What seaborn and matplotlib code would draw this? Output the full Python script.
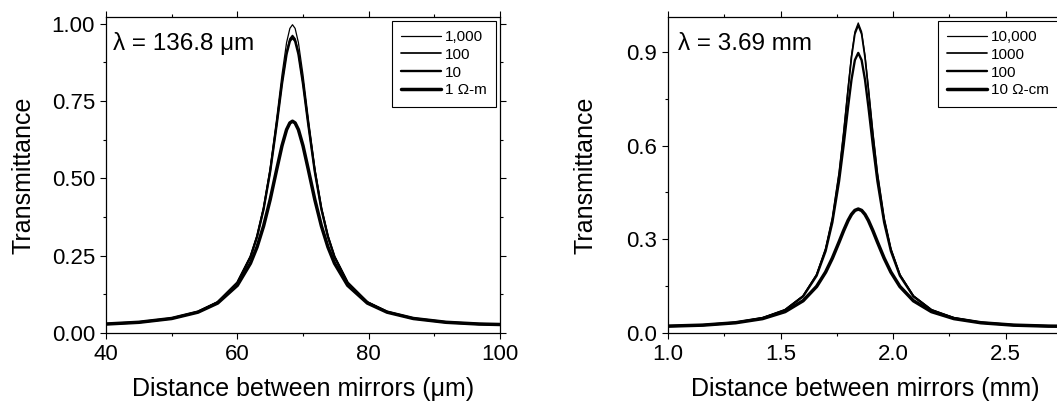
import matplotlib
matplotlib.use("Agg")
import matplotlib.pyplot as plt
import seaborn as sns
from matplotlib.ticker import MultipleLocator

# left panel: lambda = 136.8 um, resistivity in ohm-m
x_um = [40, 45, 50, 54, 57, 60, 62, 63, 64, 65, 66, 66.8, 67.5, 68, 68.4,
        68.8, 69.3, 70.0, 70.8, 71.8, 72.8, 73.8, 74.8, 76.8, 79.8, 82.8,
        86.8, 91.8, 96.8, 100]
t_1000 = [0.029, 0.0347, 0.0473, 0.0685, 0.0999, 0.1639, 0.2485, 0.315, 0.4074,
          0.5336, 0.6951, 0.8353, 0.9394, 0.9851, 0.997, 0.9851, 0.9394, 0.8353,
          0.6951, 0.5336, 0.4074, 0.315, 0.2485, 0.1639, 0.0999, 0.0685, 0.0473,
          0.0347, 0.029, 0.0274]
t_100 = [0.029, 0.0347, 0.0473, 0.0685, 0.0997, 0.1631, 0.2465, 0.3117, 0.4018,
         0.5237, 0.6781, 0.8107, 0.9084, 0.9509, 0.962, 0.9509, 0.9084, 0.8107,
         0.6781, 0.5237, 0.4018, 0.3117, 0.2465, 0.1631, 0.0997, 0.0685, 0.0473,
         0.0347, 0.029, 0.0274]
t_10 = [0.029, 0.0347, 0.0473, 0.0685, 0.0997, 0.163, 0.2463, 0.3113, 0.4009,
        0.5219, 0.6749, 0.8059, 0.9022, 0.9441, 0.955, 0.9441, 0.9022, 0.8059,
        0.6749, 0.5219, 0.4009, 0.3113, 0.2463, 0.163, 0.0997, 0.0685, 0.0473,
        0.0347, 0.029, 0.0274]
t_1 = [0.029, 0.0346, 0.0469, 0.0674, 0.0968, 0.1542, 0.2254, 0.2779, 0.3461,
       0.4314, 0.5294, 0.6056, 0.6577, 0.6794, 0.685, 0.6794, 0.6577, 0.6056,
       0.5294, 0.4314, 0.3461, 0.2779, 0.2254, 0.1542, 0.0968, 0.0674, 0.0469,
       0.0346, 0.029, 0.0275]
left_labels = ["1,000", "100", "10", "1 Ω-m"]

# right panel: lambda = 3.69 mm, resistivity in ohm-cm
x_mm = [1.0, 1.155, 1.3, 1.42, 1.52, 1.6, 1.66, 1.70, 1.73, 1.76, 1.78, 1.80,
        1.815, 1.83, 1.845, 1.86, 1.875, 1.89, 1.91, 1.93, 1.96, 1.99, 2.03,
        2.09, 2.17, 2.27, 2.39, 2.535, 2.69, 2.75]
r_10000 = [0.022, 0.0253, 0.0334, 0.048, 0.0741, 0.1186, 0.187, 0.2696, 0.3678,
           0.5134, 0.6416, 0.7862, 0.889, 0.9648, 0.993, 0.9648, 0.889, 0.7862,
           0.6416, 0.5134, 0.3678, 0.2696, 0.187, 0.1186, 0.0741, 0.048, 0.0334,
           0.0253, 0.022, 0.0217]
r_1000 = [0.022, 0.0253, 0.0334, 0.048, 0.0741, 0.1186, 0.1868, 0.2692, 0.3669,
          0.5115, 0.6385, 0.7813, 0.8826, 0.9572, 0.985, 0.9572, 0.8826, 0.7813,
          0.6385, 0.5115, 0.3669, 0.2692, 0.1868, 0.1186, 0.0741, 0.048, 0.0334,
          0.0253, 0.022, 0.0217]
r_100 = [0.022, 0.0253, 0.0333, 0.0478, 0.0736, 0.1173, 0.1835, 0.2623, 0.3541,
         0.4868, 0.6004, 0.7249, 0.8113, 0.8739, 0.897, 0.8739, 0.8113, 0.7249,
         0.6004, 0.4868, 0.3541, 0.2623, 0.1835, 0.1173, 0.0736, 0.0478, 0.0333,
         0.0253, 0.022, 0.0216]
r_10 = [0.022, 0.0252, 0.0328, 0.0461, 0.0685, 0.1032, 0.1489, 0.1949, 0.2396,
        0.2917, 0.3277, 0.3604, 0.3798, 0.3926, 0.397, 0.3926, 0.3798, 0.3604,
        0.3277, 0.2917, 0.2396, 0.1949, 0.1489, 0.1032, 0.0685, 0.0461, 0.0328,
        0.0252, 0.022, 0.0217]
right_labels = ["10,000", "1000", "100", "10 Ω-cm"]

line_widths = [0.9, 1.25, 1.7, 2.5]

sns.set_style("ticks")
plt.rcParams['font.family'] = ['Liberation Sans', 'DejaVu Sans']
for key in ["text.color", "axes.labelcolor", "xtick.color", "ytick.color",
            "axes.edgecolor"]:
    plt.rcParams[key] = "black"

W, H = 1057, 408
fig = plt.figure(figsize=(W / 100, H / 100), dpi=100)
ax1 = fig.add_axes([106 / W, (H - 333) / H, 394 / W, 316 / H])
ax2 = fig.add_axes([668 / W, (H - 333) / H, 394 / W, 316 / H])


def style_axis(ax, xlabel):
    for sp in ax.spines.values():
        sp.set_visible(True)
        sp.set_linewidth(0.9)
        sp.set_color("black")
    ax.tick_params(which="both", direction="out", top=True, right=True,
                   labeltop=False, labelright=False, width=0.8, color="black",
                   labelcolor="black", labelsize=16)
    ax.tick_params(which="major", length=4.5)
    ax.tick_params(which="minor", length=2.5)
    ax.set_ylabel("Transmittance", fontsize=18, color="black")
    ax.yaxis.set_label_coords(-0.18, 0.5)
    ax.set_xlabel(xlabel, fontsize=18, color="black")
    ax.xaxis.set_label_coords(0.5, -0.14)


# left
for ys, lab, lw in zip([t_1000, t_100, t_10, t_1], left_labels, line_widths):
    sns.lineplot(x=x_um, y=ys, ax=ax1, color="black", linewidth=lw, label=lab)
ax1.set_xlim(40, 100)
ax1.set_ylim(0, 1.022)
ax1.xaxis.set_major_locator(MultipleLocator(20))
ax1.xaxis.set_minor_locator(MultipleLocator(10))
ax1.yaxis.set_major_locator(MultipleLocator(0.25))
ax1.yaxis.set_minor_locator(MultipleLocator(0.125))
style_axis(ax1, "Distance between mirrors (μm)")
ax1.text(0.018, 0.915, "λ = 136.8 μm", transform=ax1.transAxes, fontsize=17.5,
         va="center", ha="left", color="black")

# right
for ys, lab, lw in zip([r_10000, r_1000, r_100, r_10], right_labels, line_widths):
    sns.lineplot(x=x_mm, y=ys, ax=ax2, color="black", linewidth=lw, label=lab)
ax2.set_xlim(1.0, 2.75)
ax2.set_ylim(0, 1.012)
ax2.xaxis.set_major_locator(MultipleLocator(0.5))
ax2.xaxis.set_minor_locator(MultipleLocator(0.25))
ax2.yaxis.set_major_locator(MultipleLocator(0.3))
ax2.yaxis.set_minor_locator(MultipleLocator(0.15))
style_axis(ax2, "Distance between mirrors (mm)")
ax2.text(0.025, 0.915, "λ = 3.69 mm", transform=ax2.transAxes, fontsize=17.5,
         va="center", ha="left", color="black")

for ax in (ax1, ax2):
    leg = ax.legend(loc="upper right", fontsize=11, frameon=True, fancybox=False,
                    framealpha=1, edgecolor="black", handlelength=2.6,
                    handletextpad=0.3, labelspacing=0.25, borderaxespad=0.25,
                    borderpad=0.6)
    leg.get_frame().set_linewidth(0.8)
    for t in leg.get_texts():
        t.set_color("black")

fig.savefig("out.png", dpi=100)
